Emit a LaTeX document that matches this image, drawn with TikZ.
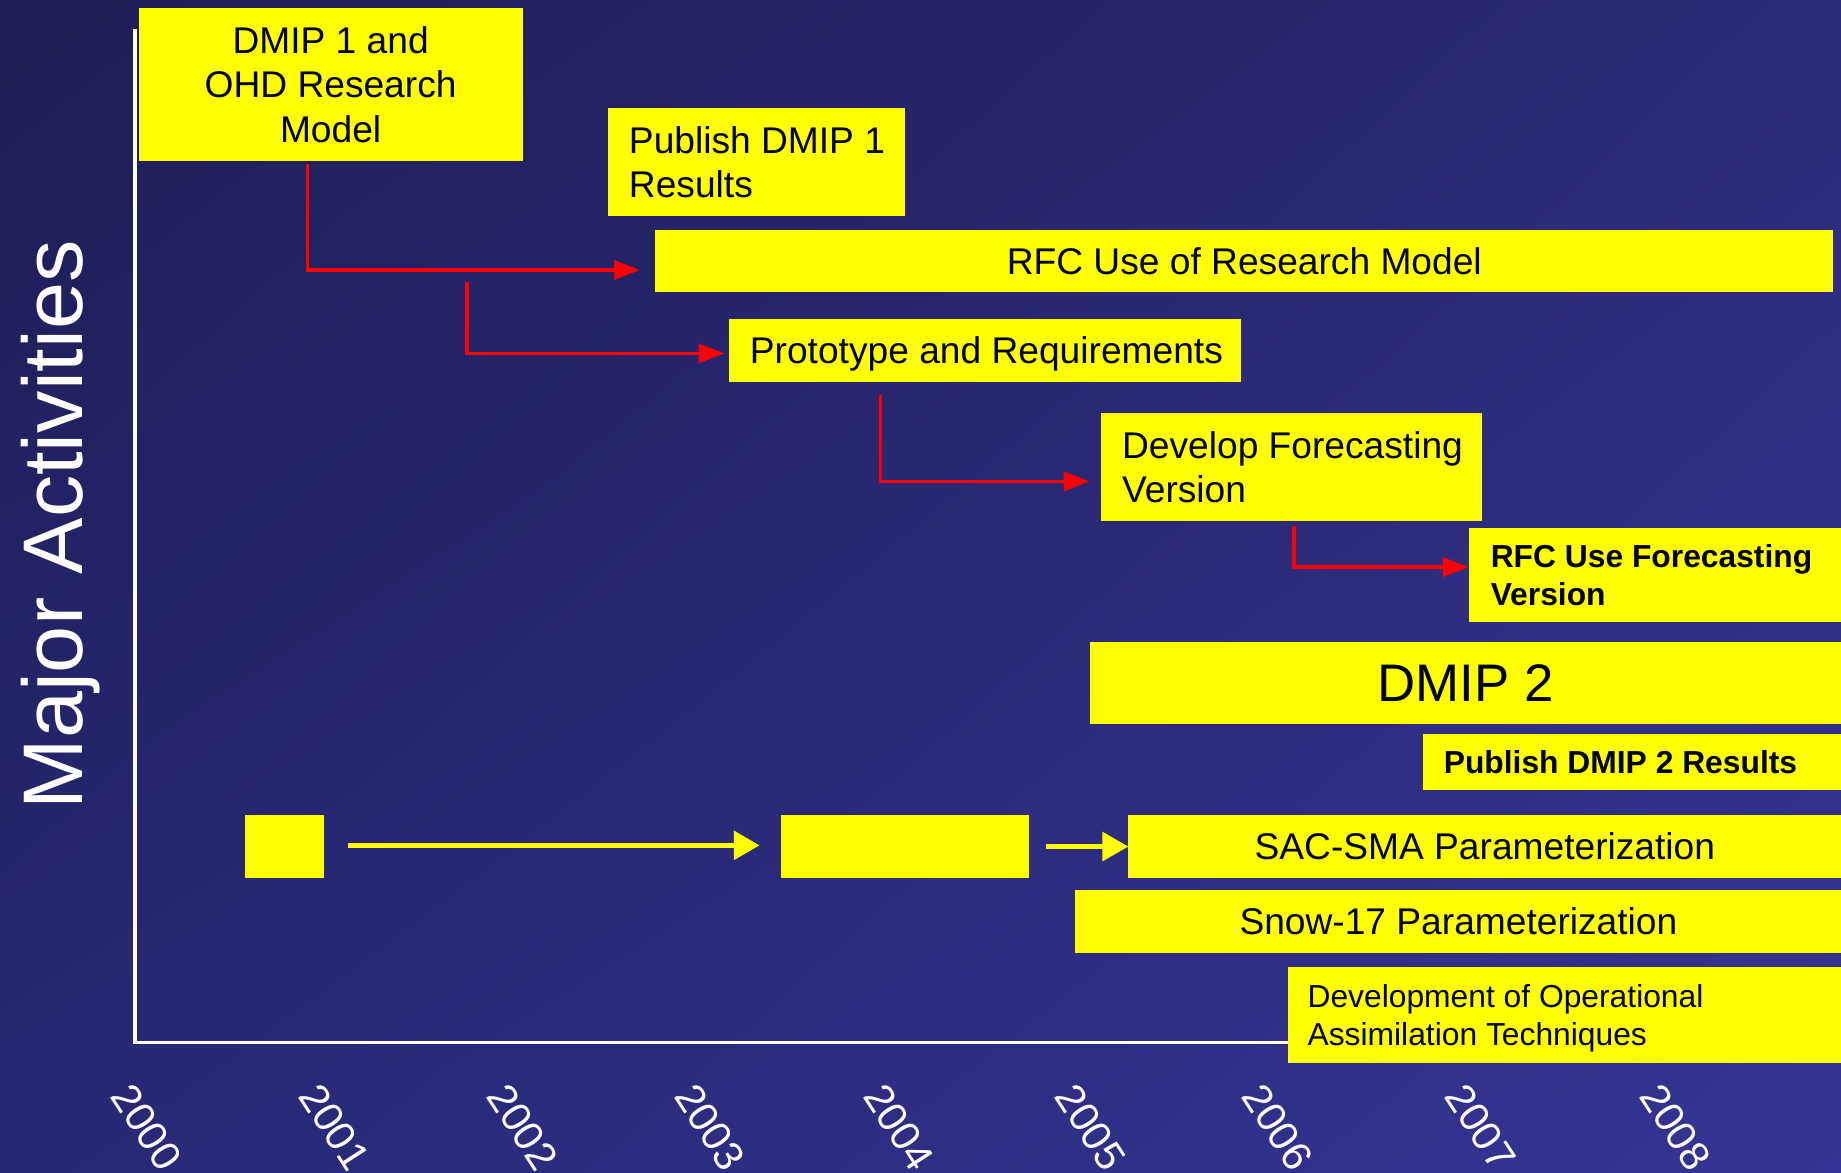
\documentclass[tikz,border=0pt]{standalone}
\usepackage{fontspec}
\setmainfont{Liberation Sans}
\usetikzlibrary{arrows.meta,shadings}
\definecolor{bgTL}{RGB}{30,29,85}
\definecolor{bgTR}{RGB}{44,43,120}
\definecolor{bgBL}{RGB}{40,40,118}
\definecolor{bgBR}{RGB}{54,52,148}
\definecolor{boxyellow}{RGB}{255,255,0}
\definecolor{arrowred}{RGB}{255,0,0}
\begin{document}
\begin{tikzpicture}[x=0.01cm,y=-0.01cm,
  bar/.style={fill=boxyellow, inner sep=0pt, outer sep=0pt, anchor=north west},
  ctext/.style={font=\fontsize{9}{10.7}\selectfont, text=black, align=center},
  lbl/.style={font=\fontsize{9}{10.7}\selectfont, text=black, inner sep=0pt, align=left, anchor=west},
  boldlbl/.style={font=\fontsize{7.7}{9.1}\selectfont\bfseries, text=black, inner sep=0pt, align=left, anchor=west},
  smalllbl/.style={font=\fontsize{7.7}{9.1}\selectfont, text=black, inner sep=0pt, align=left, anchor=west},
  year/.style={font=\fontsize{10}{12}\selectfont, text=white, inner sep=0pt, rotate=-57},
  redarr/.style={draw=arrowred, line width=0.32mm, -{Triangle[length=2.2mm,width=1.6mm]}},
  yelarr/.style={draw=boxyellow, line width=0.45mm, -{Triangle[length=2.2mm,width=2.4mm]}},
  axis/.style={draw=white, line width=0.3mm}]

\useasboundingbox (0,0) rectangle (1568,999);
\shade[upper left=bgTL, upper right=bgTR, lower left=bgBL, lower right=bgBR] (0,0) rectangle (1568,999);

% axis
\coordinate (axtop) at (115,25);
\coordinate (axorig) at (115,888);
\coordinate (axend) at (1100,888);
\draw[axis] (axtop) -- (axorig) -- (axend);

\node[rotate=90, anchor=base, font=\fontsize{20.5}{24}\selectfont, text=white, inner sep=0pt] (ylab) at (70,447) {Major Activities};

% boxes
\node[bar, minimum width=32.7mm, minimum height=13mm, ctext] (dmip1) at (118,7) {DMIP 1 and\\OHD Research\\Model};
\node[bar, minimum width=25.3mm, minimum height=9.2mm] (pub1) at (518,92) {};
\node[lbl] (pub1t) at ([xshift=1.7mm]pub1.west) {Publish DMIP 1\\Results};
\node[bar, minimum width=100.3mm, minimum height=5.3mm, ctext] (rfc) at (558,196) {RFC Use of Research Model};
\node[bar, minimum width=43.6mm, minimum height=5.3mm] (proto) at (621,272) {};
\node[lbl, text depth=0pt] (protot) at ([xshift=1.7mm]proto.west) {Prototype and Requirements};
\node[bar, minimum width=32.4mm, minimum height=9.2mm] (dev) at (938,352) {};
\node[lbl] (devt) at ([xshift=1.7mm]dev.west) {Develop Forecasting\\Version};
\node[bar, minimum width=31.7mm, minimum height=8mm] (rfcf) at (1251,450) {};
\node[boldlbl] (rfcft) at ([xshift=1.8mm]rfcf.west) {RFC Use Forecasting\\Version};
\node[bar, minimum width=64mm, minimum height=7mm, font=\fontsize{12.8}{15}\selectfont, text=black] (dmip2) at (928,547) {DMIP 2};
\node[bar, minimum width=35.6mm, minimum height=4.8mm] (pub2) at (1212,625) {};
\node[boldlbl] (pub2t) at ([xshift=1.7mm]pub2.west) {Publish DMIP 2 Results};
\node[bar, minimum width=6.7mm, minimum height=5.4mm] (sq) at (209,694) {};
\node[bar, minimum width=21.1mm, minimum height=5.4mm] (mid) at (665,694) {};
\node[bar, minimum width=60.7mm, minimum height=5.4mm, ctext] (sac) at (961,694) {SAC-SMA Parameterization};
\node[bar, minimum width=65.2mm, minimum height=5.4mm, ctext] (snow) at (916,758) {Snow-17 Parameterization};
\node[bar, minimum width=47.1mm, minimum height=8.1mm] (assim) at (1097,824) {};
\node[smalllbl] (assimt) at ([xshift=1.6mm,yshift=-0.25mm]assim.west) {Development of Operational\\Assimilation Techniques};

% red arrows
\coordinate (a1s) at (262,140); \coordinate (a1e) at (545,230);
\coordinate (a2s) at (398,240); \coordinate (a2e) at (617,301);
\coordinate (a3s) at (750,336); \coordinate (a3e) at (928,410);
\coordinate (a4s) at (1102,448); \coordinate (a4e) at (1251,483);
\draw[redarr] (a1s) |- (a1e);
\draw[redarr] (a2s) |- (a2e);
\draw[redarr] (a3s) |- (a3e);
\draw[redarr] (a4s) |- (a4e);

% yellow arrows
\coordinate (y1s) at (296,720); \coordinate (y1e) at (647,720);
\coordinate (y2s) at (891,721); \coordinate (y2e) at (961,721);
\draw[yelarr] (y1s) -- (y1e);
\draw[yelarr] (y2s) -- (y2e);

% years
\node[year] (y2000) at (125,960) {2000};
\node[year] (y2001) at (285,960) {2001};
\node[year] (y2002) at (445,960) {2002};
\node[year] (y2003) at (605,960) {2003};
\node[year] (y2004) at (766,960) {2004};
\node[year] (y2005) at (929,960) {2005};
\node[year] (y2006) at (1088,960) {2006};
\node[year] (y2007) at (1261,960) {2007};
\node[year] (y2008) at (1427,960) {2008};
\end{tikzpicture}
\end{document}
